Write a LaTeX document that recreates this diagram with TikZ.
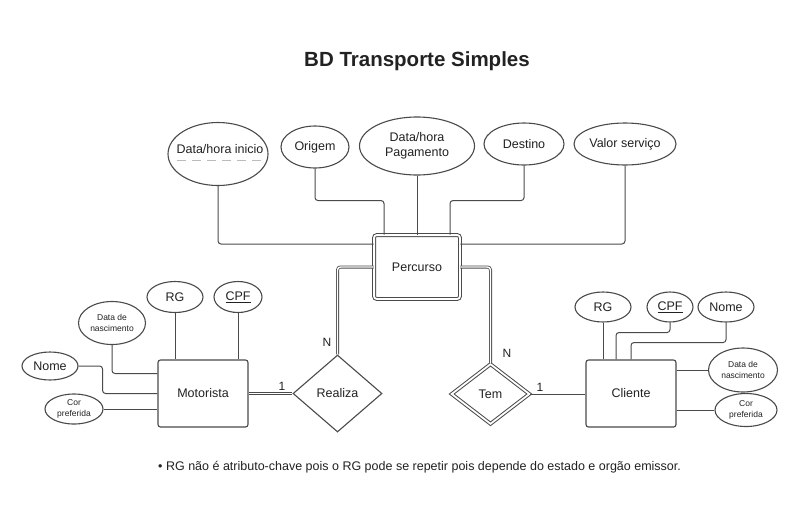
\documentclass[tikz,border=0pt]{standalone}
\usepackage{fontspec}
\setmainfont{Liberation Sans}
\usetikzlibrary{shapes.geometric}
\definecolor{linec}{HTML}{4A4A4A}
\definecolor{txtc}{HTML}{222222}
\definecolor{dashc}{HTML}{BBBBBB}
\begin{document}
\begin{tikzpicture}[x=1pt,y=-1pt,
  lbl/.style={inner sep=0pt, align=center, text=txtc, font=\fontsize{12.5}{15}\selectfont},
  smalllbl/.style={lbl, font=\fontsize{8.5}{11}\selectfont},
  attr/.style={draw=linec, line width=1.1pt, ellipse, inner sep=0pt},
  ent/.style={draw=linec, line width=1.1pt, rounded corners=2.5pt, inner sep=0pt},
  rel/.style={draw=linec, line width=1.1pt, diamond, inner sep=0pt},
  dbl/.style={double=white, double distance=1.8pt, line width=1pt},
  conn/.style={draw=linec, line width=1pt, rounded corners=3pt},
  dconn/.style={draw=linec, line width=0.8pt, double=white, double distance=1.4pt, rounded corners=3pt},
  card/.style={inner sep=0pt, text=txtc, font=\fontsize{12}{14}\selectfont}]
\useasboundingbox[fill=white] (0,0) rectangle (800,523);

% title
\node[inner sep=0pt, text=txtc, font=\fontsize{20.5}{24}\bfseries\selectfont] (title) at (417,61) {BD Transporte Simples};

% Percurso
\node[ent, dbl, minimum width=85.8pt, minimum height=63.8pt, label={[lbl]center:Percurso}] (perc) at (417,267) {};

% top attributes
\node[attr, minimum width=100pt, minimum height=63pt] (dhi) at (218,154) {};
\node[lbl] (dhit) at (220,149) {Data/hora inicio};
\draw[dashc, line width=1pt, dash pattern=on 9pt off 6pt] ([xshift=-43pt,yshift=-11pt]dhit.center) coordinate (ulA) -- ([xshift=43pt,yshift=-11pt]dhit.center) coordinate (ulB);
\node[attr, minimum width=68pt, minimum height=42pt, label={[lbl]center:Origem}] (ori) at (315,147) {};
\node[attr, minimum width=115pt, minimum height=58pt, label={[lbl]center:Data/hora\\Pagamento}] (dhp) at (417,146) {};
\node[attr, minimum width=80pt, minimum height=42pt, label={[lbl]center:Destino}] (des) at (524,144) {};
\node[attr, minimum width=102pt, minimum height=42pt, label={[lbl]center:Valor serviço}] (val) at (625,144) {};

\draw[conn] (dhi.south) |- ([yshift=23pt]perc.west);
\draw[conn] (ori.south) -- ++(0,32) -| ([xshift=-33pt]perc.north);
\draw[conn] (dhp.south) -- (dhp.south |- perc.north);
\draw[conn] (des.south) -- ++(0,35) -| ([xshift=33pt]perc.north);
\draw[conn] (val.south) |- ([yshift=23pt]perc.east);

% relationships
\node[rel, minimum width=89pt, minimum height=77pt, label={[lbl]center:Realiza}] (rea) at (337.5,393.5) {};
\node[rel, dbl, minimum width=78pt, minimum height=60pt, label={[lbl]center:Tem}] (tem) at (490.5,394) {};

\draw[dconn] (perc.west) -| (rea.north);
\draw[dconn] (perc.east) -| (tem.north);
\node[card] (n1) at (327,342) {N};
\node[card] (n2) at (507,353) {N};

% Motorista
\node[ent, minimum width=90pt, minimum height=67pt, label={[lbl]center:Motorista}] (mot) at (203,393.5) {};
\draw[dconn] (mot.east) -- (rea.west);
\node[card] (c1) at (282,386) {1};

\node[attr, minimum width=56pt, minimum height=31pt, label={[lbl]center:RG}] (mrg) at (175,297) {};
\node[attr, minimum width=48pt, minimum height=31pt, label={[lbl]center:\underline{CPF}}] (mcpf) at (238,297) {};
\node[attr, minimum width=67pt, minimum height=43pt, label={[smalllbl]center:Data de\\nascimento}] (mdn) at (112,323) {};
\node[attr, minimum width=56pt, minimum height=28pt, label={[lbl]center:Nome}] (mnome) at (50,366) {};
\node[attr, minimum width=58pt, minimum height=30pt, label={[smalllbl]center:Cor\\preferida}] (mcor) at (74,409) {};

\draw[conn] (mrg.south) -- (mrg.south |- mot.north);
\draw[conn] (mcpf.south) -- (mcpf.south |- mot.north);
\draw[conn] (mdn.south) |- ([yshift=20pt]mot.west);
\draw[conn] (mnome.east) -- ++(24,0) |- (mot.west);
\draw[conn] (mcor.east) -- (mcor.east -| mot.west);

% Cliente
\node[ent, minimum width=90pt, minimum height=67pt, label={[lbl]center:Cliente}] (cli) at (631,393.5) {};
\draw[conn] (tem.east) -- (tem.east -| cli.west);
\node[card] (c2) at (540,387) {1};

\node[attr, minimum width=56pt, minimum height=30pt, label={[lbl]center:RG}] (crg) at (603,307) {};
\node[attr, minimum width=46pt, minimum height=30pt, label={[lbl]center:\underline{CPF}}] (ccpf) at (670,307) {};
\node[attr, minimum width=56pt, minimum height=30pt, label={[lbl]center:Nome}] (cnome) at (726,307) {};
\node[attr, minimum width=69pt, minimum height=44pt, label={[smalllbl]center:Data de\\nascimento}] (cdn) at (743,370) {};
\node[attr, minimum width=62pt, minimum height=33pt, label={[smalllbl]center:Cor\\preferida}] (ccor) at (746,410) {};

\draw[conn] (crg.south) -- (crg.south |- cli.north);
\draw[conn] (ccpf.south) -- ++(0,10) -| ([xshift=-15pt]cli.north);
\draw[conn] (cnome.south) -- ++(0,20) -| (cli.north);
\draw[conn] (cdn.west) -- (cdn.west -| cli.east);
\draw[conn] (ccor.west) -- (ccor.west -| cli.east);

% footnote
\node[inner sep=0pt, anchor=west, text=txtc, font=\fontsize{12.5}{15}\selectfont] (note) at (158,467) {\textbullet\ RG não é atributo-chave pois o RG pode se repetir pois depende do estado e orgão emissor.};
\end{tikzpicture}
\end{document}
